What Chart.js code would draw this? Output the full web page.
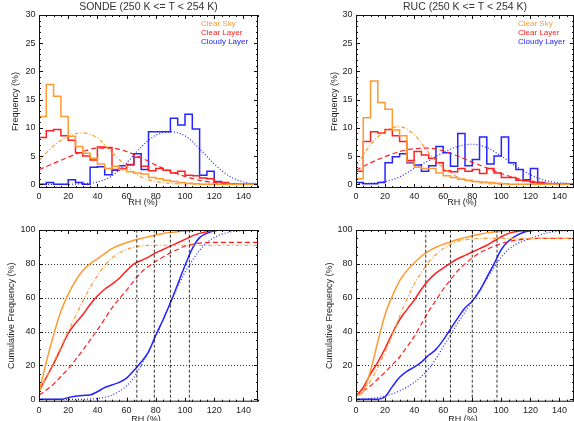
<!DOCTYPE html>
<html lang="en">
<head>
  <meta charset="UTF-8">
  <title>RH frequency, SONDE vs RUC (250 K &lt;= T &lt; 254 K)</title>
  <script src="https://cdn.jsdelivr.net/npm/chart.js"></script>
  <style>
    html, body {
      margin: 0;
      padding: 0;
      background: #fff;
      width: 574px;
      height: 421px;
      overflow: hidden;
      position: relative;
    }
    canvas {
      position: absolute;
    }
  </style>
</head>
<body>

  <canvas id="sondeHist" width="287" height="210" style="left:0;top:0"></canvas>
  <canvas id="rucHist" width="316" height="210" style="left:287px;top:0"></canvas>
  <canvas id="sondeCum" width="287" height="216" style="left:0;top:210px"></canvas>
  <canvas id="rucCum" width="316" height="216" style="left:287px;top:210px"></canvas>

  <script>
    // ---- data ----
    const rhTicks = [0, 20, 40, 60, 80, 100, 120, 140];
    const freqTicks = [0, 5, 10, 15, 20, 25, 30];
    const cumTicks = [0, 20, 40, 60, 80, 100];

    // histogram bins (left edge, %RH), last entry closes the final bin
    const rhBins = [0, 5, 10, 15, 20, 25, 30, 35, 40, 45, 50, 55, 60, 65, 70, 75,
                    80, 85, 90, 95, 100, 105, 110, 115, 120, 125, 130, 135, 140, 145, 150];

    const sondeClearSky   = [12.0, 17.7, 15.6, 12.0, 8.5, 6.7, 5.5, 4.6, 3.6, 2.8, 3.2, 2.6, 2.2, 2.0, 1.8, 1.2,
                             1.0, 0.7, 0.5, 0.3, 0.2, 0.1, 0, 0, 0, 0, 0, 0, 0, 0, 0];
    const sondeClearLayer = [8.3, 9.5, 9.7, 8.6, 7.8, 5.6, 5.0, 4.3, 6.6, 6.5, 2.6, 2.8, 3.4, 4.8, 3.2, 2.4,
                             2.8, 2.5, 2.0, 2.3, 1.6, 1.5, 1.1, 1.0, 0.4, 0.3, 0.1, 0, 0, 0, 0];
    const sondeCloudy     = [0, 0.3, 0, 0, 0.8, 0.3, 0, 3.0, 3.1, 1.7, 2.5, 3.3, 3.5, 5.4, 2.6, 9.3,
                             9.3, 9.3, 11.7, 10.5, 12.4, 9.8, 1.6, 2.3, 0.5, 0, 0, 0, 0, 0, 0];

    const rucClearSky     = [1.0, 11.8, 18.3, 14.5, 13.3, 9.6, 8.6, 4.0, 3.0, 2.8, 2.8, 2.0, 1.5, 1.2, 0.9, 0.7,
                             0.5, 0.4, 0.3, 0.2, 0.1, 0, 0, 0, 0, 0, 0, 0, 0, 0, 0];
    const rucClearLayer   = [2.3, 7.6, 9.3, 9.1, 9.7, 8.6, 7.6, 4.2, 5.8, 5.2, 4.6, 3.8, 2.4, 2.2, 2.8, 2.3,
                             2.6, 1.9, 2.8, 2.0, 1.2, 1.2, 0.7, 0.6, 0.3, 0.2, 0.1, 0, 0, 0, 0];
    const rucCloudy       = [0.3, 0.1, 0.1, 0.3, 3.8, 4.9, 5.4, 3.8, 3.4, 2.3, 3.3, 6.7, 5.6, 3.2, 9.0, 3.3,
                             4.4, 8.4, 3.6, 5.0, 8.4, 3.8, 2.6, 0.8, 2.8, 0.3, 0, 0, 0, 0, 0];

    // fitted distributions
    const fitRh = [0, 10, 20, 30, 40, 50, 60, 70, 80, 90, 100, 110, 120, 130, 140, 150];
    const sondeClearSkyFit   = [4.2, 6.8, 8.5, 9.1, 8.2, 5.6, 3.2, 1.3, 0.5, 0.15, 0.05, 0, 0, 0, 0, 0];
    const sondeClearLayerFit = [2.6, 3.7, 4.8, 5.8, 6.4, 6.4, 5.8, 4.7, 3.4, 2.3, 1.4, 0.7, 0.3, 0.1, 0, 0];
    const sondeCloudyFit     = [0, 0, 0, 0.1, 0.4, 1.5, 3.8, 6.6, 8.7, 9.3, 8.6, 6.3, 3.6, 1.5, 0.4, 0.1];
    const rucClearSkyFit     = [3.2, 7.0, 9.4, 10.2, 8.8, 5.6, 2.9, 1.3, 0.5, 0.15, 0, 0, 0, 0, 0, 0];
    const rucClearLayerFit   = [2.5, 3.8, 4.9, 5.8, 6.3, 6.4, 5.9, 5.0, 3.9, 2.9, 1.9, 1.1, 0.6, 0.25, 0.1, 0];
    const rucCloudyFit       = [0.1, 0.2, 0.5, 1.3, 2.8, 4.2, 5.6, 6.7, 7.1, 6.5, 5.0, 3.2, 1.7, 0.7, 0.25, 0.1];

    // cumulative frequencies
    const cumRh = rhBins;
    const sondeClearSkyCum      = [4, 22, 38, 52, 62, 70, 76, 80, 83, 86, 89, 91, 92.5, 94, 95, 96,
                                   97, 98, 98.5, 99, 99.4, 99.7, 100, 100, 100, 100, 100, 100, 100, 100, 100];
    const sondeClearSkyFitCum   = [4.5, 13, 22, 31, 40, 49, 58, 66, 73, 79, 83.5, 86.5, 88.5, 89.8, 90.5, 90.9,
                                   91, 91, 91, 91, 91, 91, 91, 91, 91, 91, 91, 91, 91, 91, 91];
    const sondeClearLayerCum    = [5, 13, 21, 30, 39, 45, 50, 56, 61, 65, 68, 71.5, 76, 80, 82, 84,
                                   86.5, 88.5, 90.5, 92.5, 94.5, 96.5, 98, 99, 99.6, 100, 100, 100, 100, 100, 100];
    const sondeClearLayerFitCum = [2.5, 5.5, 9, 13.5, 18, 23.5, 29, 35, 41, 47.5, 54, 59.5, 64.5, 70, 75, 78.5,
                                   81.5, 84, 86.5, 88.5, 90.5, 91.6, 92.3, 92.6, 92.7, 92.7, 92.7, 92.7, 92.7, 92.7, 92.7];
    const sondeCloudyCum        = [0, 0, 0, 0, 1, 1.8, 2.3, 2.6, 4.5, 7, 8.5, 10, 12.5, 17, 22, 28,
                                   38, 47, 57, 68, 79, 89, 95.5, 98, 99.6, 100, 100, 100, 100, 100, 100];
    const sondeCloudyFitCum     = [0, 0, 0, 0, 0, 0, 0, 0.2, 0.5, 1.2, 2.5, 4.8, 8, 13, 20, 28,
                                   37, 47, 57, 66.5, 75, 82, 88, 92.5, 95.5, 97.5, 98.7, 99.3, 99.6, 99.8, 100];

    const rucClearSkyCum        = [2, 4.5, 17, 34, 50, 61, 70, 76, 80.5, 84.5, 87.5, 89.8, 91.5, 93, 94.5, 95.5,
                                   96.5, 97.5, 98.3, 98.8, 99.3, 99.7, 100, 100, 100, 100, 100, 100, 100, 100, 100];
    const rucClearSkyFitCum     = [2, 5, 11, 19, 28, 38, 49, 59, 68, 75, 81, 85.5, 89, 91.5, 93.5, 94.3,
                                   94.8, 95, 95, 95, 95, 95, 95, 95, 95, 95, 95, 95, 95, 95, 95];
    const rucClearLayerCum      = [2, 7, 15, 22, 30, 39, 47, 53, 58.5, 65, 70.5, 74.5, 77.5, 80.5, 83, 85,
                                   87, 89, 91, 93.5, 96, 98, 99, 99.6, 100, 100, 100, 100, 100, 100, 100];
    const rucClearLayerFitCum   = [2.5, 5, 8, 12, 16, 20.5, 25, 31, 37, 44.5, 52, 58.5, 65, 70.5, 76, 80,
                                   83.5, 86.5, 88.5, 90.5, 92, 93.2, 94, 94.5, 94.8, 95, 95, 95, 95, 95, 95];
    const rucCloudyCum          = [0, 0, 0, 0, 1.5, 7.5, 13, 16.5, 19, 22, 26, 29.5, 35, 41.5, 48, 54,
                                   58, 64, 72, 80, 88.5, 93.5, 96.5, 98.5, 99.5, 100, 100, 100, 100, 100, 100];
    const rucCloudyFitCum       = [0, 0.2, 0.5, 1, 2, 3.2, 5, 7.2, 10, 13.5, 18, 24, 31, 38, 45, 51.5,
                                   58, 64.5, 71, 78, 84, 88.5, 91.5, 93.5, 95, 96.5, 98, 98.8, 99.3, 99.6, 99.7];

    // RH where the cloudy-layer curve passes 20/40/60/80 %
    const sondeMarks = [67, 79, 90, 103];
    const rucMarks = [48, 65, 80, 97];

    // ---- styling ----
    const FONT = "'Liberation Sans', Arial, sans-serif";
    const TEXT = '#222';
    const groups = [
      { label: 'Clear Sky',    color: '#ff9a30', dash: [4, 2, 1, 2] },
      { label: 'Clear Layer',  color: '#ff2020', dash: [5, 3] },
      { label: 'Cloudy Layer', color: '#2424ff', dash: [1, 2] }
    ];

    function pts(xs, ys) {
      return xs.map((x, i) => ({ x: x, y: ys[i] }));
    }

    function histDatasets(hist, fits) {
      const out = [];
      groups.forEach((g, i) => {
        out.push({ label: g.label, data: pts(rhBins, hist[i]), borderColor: g.color,
                   borderWidth: 1.5, stepped: true, pointRadius: 0 });
        out.push({ label: g.label + ' fit', data: pts(fitRh, fits[i]), borderColor: g.color,
                   borderWidth: 1.2, borderDash: g.dash, cubicInterpolationMode: 'monotone', pointRadius: 0 });
      });
      return out;
    }

    function cumDatasets(obs, fits, marks) {
      const out = marks.map(m => ({
        label: 'mark', data: [{ x: m, y: -2 }, { x: m, y: 100 }],
        borderColor: '#000', borderWidth: 0.8, borderDash: [3, 2], pointRadius: 0
      }));
      groups.forEach((g, i) => {
        out.push({ label: g.label + ' fit', data: pts(cumRh, fits[i]), borderColor: g.color,
                   borderWidth: 1.2, borderDash: g.dash, cubicInterpolationMode: 'monotone', pointRadius: 0 });
        out.push({ label: g.label, data: pts(cumRh, obs[i]), borderColor: g.color,
                   borderWidth: 1.5, cubicInterpolationMode: 'monotone', pointRadius: 0 });
      });
      return out;
    }

    // frame with inward ticks, dotted grid, titles and coloured legend text
    const framePlugin = {
      id: 'frame',
      beforeDatasetsDraw(chart, args, o) {
        const { ctx, chartArea: a, scales: { y } } = chart;
        if (!o.grid) return;
        ctx.save();
        ctx.strokeStyle = '#000';
        ctx.lineWidth = 0.8;
        ctx.setLineDash([1, 2]);
        o.grid.forEach(v => {
          const p = Math.round(y.getPixelForValue(v)) + 0.5;
          ctx.beginPath(); ctx.moveTo(a.left, p); ctx.lineTo(a.right, p); ctx.stroke();
        });
        ctx.restore();
      },
      afterDraw(chart, args, o) {
        const { ctx, chartArea: a, scales: { x, y } } = chart;
        ctx.save();
        ctx.strokeStyle = '#111';
        ctx.lineWidth = 1;
        ctx.strokeRect(a.left + 0.5, a.top + 0.5, a.right - a.left - 1, a.bottom - a.top - 1);

        const line = (x1, y1, x2, y2) => { ctx.beginPath(); ctx.moveTo(x1, y1); ctx.lineTo(x2, y2); ctx.stroke(); };
        for (let i = 0; i <= 30; i++) {
          const v = i * 5;
          const len = v % 20 === 0 ? 4 : 2;
          const p = Math.round(x.getPixelForValue(v)) + 0.5;
          line(p, a.bottom, p, a.bottom - len);
          line(p, a.top, p, a.top + len);
        }
        const n = Math.round(o.yMax / o.yMinor);
        for (let i = 0; i <= n; i++) {
          const v = i * o.yMinor;
          const len = v % o.yMajor === 0 ? 4 : 2;
          const p = Math.round(y.getPixelForValue(v)) + 0.5;
          line(a.left, p, a.left + len, p);
          line(a.right, p, a.right - len, p);
        }

        ctx.textAlign = 'center';
        ctx.textBaseline = 'middle';
        ctx.fillStyle = TEXT;
        ctx.font = '9px ' + FONT;
        ctx.fillText('RH (%)', a.left + o.xTitleDx, a.bottom + o.xTitleDy);

        if (o.title) {
          ctx.fillStyle = '#333';
          ctx.font = '10.5px ' + FONT;
          ctx.fillText(o.title, (a.left + a.right) / 2, a.top - 8);
        }
        if (o.legend) {
          ctx.font = '8px ' + FONT;
          ctx.textAlign = 'left';
          groups.forEach((g, i) => {
            ctx.fillStyle = g.color;
            ctx.fillText(g.label, a.left + 162, a.top + 8.5 + 9 * i);
          });
        }
        ctx.restore();
      }
    };

    function makeChart(id, cfg) {
      return new Chart(document.getElementById(id), {
        type: 'line',
        data: { datasets: cfg.datasets },
        options: {
          responsive: false,
          animation: false,
          events: [],
          layout: { padding: { top: cfg.top, right: 29, left: 0, bottom: 0 } },
          plugins: {
            legend: { display: false },
            tooltip: { enabled: false },
            frame: cfg.frame
          },
          scales: {
            x: {
              type: 'linear', min: 0, max: 150,
              afterBuildTicks: s => { s.ticks = rhTicks.map(v => ({ value: v })); },
              afterFit: s => { s.height = cfg.xh; },
              grid: { display: false, drawTicks: false },
              border: { display: false },
              ticks: { font: { family: FONT, size: 9 }, color: TEXT, padding: 3, maxRotation: 0, autoSkip: false }
            },
            y: {
              type: 'linear', min: cfg.yMin, max: cfg.yMax,
              afterBuildTicks: s => { s.ticks = cfg.yTicks.map(v => ({ value: v })); },
              afterFit: s => { s.width = cfg.yw; },
              grid: { display: false, drawTicks: false },
              border: { display: false },
              ticks: { font: { family: FONT, size: 9 }, color: TEXT, padding: 3.5, autoSkip: false },
              title: { display: true, text: cfg.yTitle, color: TEXT, font: { family: FONT, size: 9 },
                       padding: { top: cfg.ytp, bottom: 0 } }
            }
          }
        },
        plugins: [framePlugin]
      });
    }

    makeChart('sondeHist', {
      datasets: histDatasets([sondeClearSky, sondeClearLayer, sondeCloudy],
                             [sondeClearSkyFit, sondeClearLayerFit, sondeCloudyFit]),
      top: 15, xh: 22, yw: 39, ytp: 10,
      yMin: -0.66, yMax: 30, yTicks: freqTicks, yTitle: 'Frequency (%)',
      frame: { title: 'SONDE (250 K <= T < 254 K)', legend: true, yMax: 30, yMinor: 1, yMajor: 5,
               xTitleDx: 104, xTitleDy: 15 }
    });

    makeChart('rucHist', {
      datasets: histDatasets([rucClearSky, rucClearLayer, rucCloudy],
                             [rucClearSkyFit, rucClearLayerFit, rucCloudyFit]),
      top: 15, xh: 22, yw: 69, ytp: 42,
      yMin: -0.66, yMax: 30, yTicks: freqTicks, yTitle: 'Frequency (%)',
      frame: { title: 'RUC (250 K <= T < 254 K)', legend: true, yMax: 30, yMinor: 1, yMajor: 5,
               xTitleDx: 106, xTitleDy: 15 }
    });

    makeChart('sondeCum', {
      datasets: cumDatasets([sondeClearSkyCum, sondeClearLayerCum, sondeCloudyCum],
                            [sondeClearSkyFitCum, sondeClearLayerFitCum, sondeCloudyFitCum], sondeMarks),
      top: 20, xh: 24.3, yw: 39, ytp: 6,
      yMin: -1.4, yMax: 100, yTicks: cumTicks, yTitle: 'Cumulative Frequency (%)',
      frame: { grid: [20, 40, 60, 80], yMax: 100, yMinor: 5, yMajor: 20, xTitleDx: 107, xTitleDy: 17.5 }
    });

    makeChart('rucCum', {
      datasets: cumDatasets([rucClearSkyCum, rucClearLayerCum, rucCloudyCum],
                            [rucClearSkyFitCum, rucClearLayerFitCum, rucCloudyFitCum], rucMarks),
      top: 20, xh: 24.3, yw: 69, ytp: 37,
      yMin: -1.4, yMax: 100, yTicks: cumTicks, yTitle: 'Cumulative Frequency (%)',
      frame: { grid: [20, 40, 60, 80], yMax: 100, yMinor: 5, yMajor: 20, xTitleDx: 107, xTitleDy: 17.5 }
    });
  </script>

</body>
</html>
